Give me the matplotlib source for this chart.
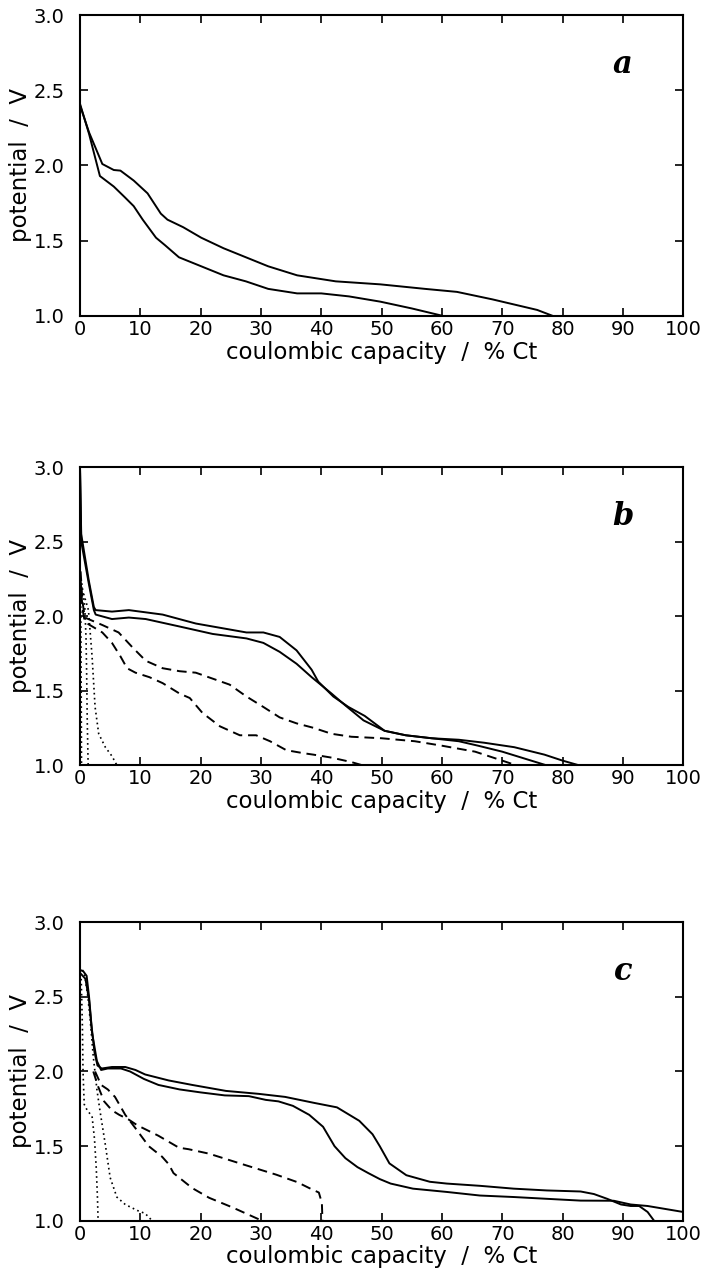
import matplotlib
matplotlib.use("Agg")
import matplotlib.pyplot as plt

# ---------------- data ----------------
# panel a
a1_x = [0, 0, 1.5, 3.7, 5.6, 6.7, 8.9, 11.2, 13.4, 14.5, 17.1, 20.1, 23.8, 27.5, 31.2, 36, 42.4, 49.8, 57.2, 62.5, 68.4, 75.8, 78.4]
a1_y = [3.0, 2.40, 2.22, 2.01, 1.97, 1.966, 1.90, 1.815, 1.68, 1.64, 1.59, 1.52, 1.45, 1.39, 1.33, 1.27, 1.23, 1.21, 1.18, 1.16, 1.11, 1.04, 1.0]
a2_x = [0, 0, 1.5, 3.3, 5.6, 7.4, 8.9, 10.4, 12.6, 14.1, 16.4, 20.1, 23.8, 27.5, 31.2, 36, 40, 44.6, 49.8, 55, 60.2]
a2_y = [3.0, 2.41, 2.21, 1.93, 1.86, 1.79, 1.73, 1.64, 1.52, 1.47, 1.39, 1.33, 1.27, 1.23, 1.18, 1.15, 1.15, 1.13, 1.095, 1.05, 1.0]

# panel b
b_s1_x = [0, 0.2, 1.45, 2.3, 2.6, 5.3, 8.1, 13.7, 19.2, 24.8, 27.6, 30.4, 33.1, 35.9, 38.4, 39.5, 42, 44.5, 47.2, 50.5, 54, 58.3, 62.8, 66, 70, 74, 77.2]
b_s1_y = [3.0, 2.55, 2.24, 2.06, 2.04, 2.03, 2.04, 2.01, 1.95, 1.91, 1.89, 1.89, 1.86, 1.77, 1.64, 1.56, 1.46, 1.39, 1.33, 1.23, 1.20, 1.18, 1.16, 1.13, 1.09, 1.04, 1.0]
b_s2_x = [0, 0.2, 1.45, 2.3, 2.6, 5.3, 8.1, 10.9, 16.5, 22, 27.6, 30.4, 33.1, 35.9, 38.4, 41.7, 44, 47, 50.5, 54, 58.3, 62.8, 67, 72, 77, 80, 82.6]
b_s2_y = [3.0, 2.5, 2.22, 2.04, 2.01, 1.98, 1.99, 1.98, 1.93, 1.88, 1.85, 1.82, 1.76, 1.68, 1.59, 1.48, 1.40, 1.30, 1.23, 1.20, 1.18, 1.17, 1.15, 1.12, 1.07, 1.03, 1.0]
b_d1_x = [0.1, 0.4, 0.8, 3.7, 6.4, 8.7, 10.9, 13.7, 16.5, 19.2, 22, 24.8, 27.6, 30.4, 33.1, 35.9, 38.7, 41.7, 45, 50, 55.5, 60, 65.5, 70, 72.2]
b_d1_y = [2.3, 2.1, 1.99, 1.94, 1.89, 1.79, 1.70, 1.65, 1.63, 1.62, 1.58, 1.54, 1.46, 1.39, 1.32, 1.28, 1.25, 1.21, 1.19, 1.18, 1.16, 1.13, 1.09, 1.03, 1.0]
b_d2_x = [0.1, 0.4, 0.8, 3.7, 5.3, 6.7, 7.8, 9.2, 11.5, 13.7, 16.5, 18.2, 20.3, 23.2, 26.5, 29.2, 31.5, 34.2, 37, 38.7, 41.7, 45, 46.7]
b_d2_y = [2.25, 2.05, 1.96, 1.89, 1.82, 1.73, 1.65, 1.62, 1.59, 1.55, 1.48, 1.45, 1.35, 1.26, 1.20, 1.20, 1.16, 1.10, 1.08, 1.07, 1.05, 1.02, 1.0]
b_o1_x = [0.3, 0.8, 1.0, 1.1, 1.2, 1.35]
b_o1_y = [2.22, 2.06, 1.85, 1.62, 1.3, 1.0]
b_o2_x = [0.6, 1.4, 2.0, 2.5, 3.1, 4.2, 5.3, 6.1]
b_o2_y = [2.15, 2.04, 1.73, 1.39, 1.21, 1.12, 1.06, 1.0]
b_o3_x = [0.1, 0.15, 0.2, 0.25]
b_o3_y = [2.2, 1.9, 1.5, 1.0]

# panel c
c_s1_x = [0, 0, 0.55, 1.1, 1.5, 1.9, 2.4, 2.9, 3.6, 5.3, 7.5, 9.2, 10.8, 14.7, 18.6, 24.2, 29.7, 34, 38.8, 42.6, 46.3, 48.5, 49.7, 51.3, 54.1, 58, 60.8, 66.3, 71.9, 77.4, 83, 85.2, 87.4, 89.7, 91.3, 92.7, 94.1, 95.2]
c_s1_y = [3.0, 2.68, 2.67, 2.64, 2.50, 2.31, 2.13, 2.04, 2.02, 2.03, 2.03, 2.01, 1.98, 1.94, 1.91, 1.87, 1.85, 1.83, 1.79, 1.76, 1.67, 1.58, 1.50, 1.385, 1.306, 1.262, 1.25, 1.235, 1.216, 1.204, 1.197, 1.18, 1.148, 1.11, 1.10, 1.10, 1.06, 1.0]
c_s2_x = [0, 0, 0.9, 1.5, 2.0, 2.8, 3.5, 4.6, 6.8, 8.3, 10.6, 13, 16.5, 20, 24, 28, 30.8, 32.9, 35.3, 38, 40.3, 42.2, 44, 46, 47.8, 49.7, 51.5, 55.2, 60.8, 66.3, 71.9, 77.4, 83, 88.5, 91.3, 94.1, 100]
c_s2_y = [3.0, 2.66, 2.62, 2.48, 2.26, 2.07, 2.01, 2.02, 2.02, 2.0, 1.95, 1.91, 1.88, 1.86, 1.84, 1.835, 1.81, 1.80, 1.77, 1.71, 1.63, 1.50, 1.42, 1.36, 1.32, 1.28, 1.25, 1.216, 1.194, 1.17, 1.16, 1.148, 1.136, 1.135, 1.11, 1.10, 1.06]
c_d1_x = [2.2, 3.0, 4.0, 5.3, 6.5, 8, 9.5, 13, 16.4, 18, 21.4, 26.9, 32.5, 36, 38, 39.6, 40.1, 40.2]
c_d1_y = [2.0, 1.9, 1.80, 1.74, 1.71, 1.68, 1.64, 1.57, 1.49, 1.48, 1.45, 1.38, 1.31, 1.26, 1.22, 1.19, 1.12, 1.0]
c_d2_x = [2.5, 3.5, 4.6, 5.8, 7.5, 9.2, 11.4, 13.6, 14.7, 15.5, 18.6, 21.4, 25.3, 27.5, 29.7, 30]
c_d2_y = [2.0, 1.91, 1.88, 1.83, 1.71, 1.62, 1.50, 1.43, 1.38, 1.32, 1.22, 1.155, 1.09, 1.05, 1.01, 1.0]
c_o1_x = [0.2, 0.4, 0.5, 0.7, 1.2, 2.0, 2.4, 2.7, 2.9, 3.0]
c_o1_y = [2.62, 2.3, 2.0, 1.78, 1.74, 1.70, 1.55, 1.35, 1.15, 1.0]
c_o2_x = [0.4, 0.8, 1.3, 1.7, 2.2, 2.8, 3.3, 4.2, 5.0, 6.1, 7.5, 9.5, 10.8, 12]
c_o2_y = [2.68, 2.64, 2.5, 2.34, 2.1, 1.88, 1.74, 1.51, 1.29, 1.16, 1.11, 1.07, 1.05, 1.0]

x_ticks = [0, 10, 20, 30, 40, 50, 60, 70, 80, 90, 100]
y_ticks = [1.0, 1.5, 2.0, 2.5, 3.0]
panel_letters = ["a", "b", "c"]
xlabel_text = "coulombic capacity  /  % Ct"
ylabel_text = "potential  /  V"

# ---------------- figure ----------------
plt.rcParams['font.family'] = ['DejaVu Sans']
fig = plt.figure(figsize=(7.03, 12.73), dpi=100)

L, W = 0.1138, 0.858
positions = [(L, 0.7518, W, 0.2364), (L, 0.3990, W, 0.2341), (L, 0.0409, W, 0.2348)]

solid = dict(color='black', lw=1.4, ls='-')
dashed = dict(color='black', lw=1.4, ls=(0, (5, 3)))
dotted = dict(color='black', lw=1.2, ls=(0, (1, 2)))

panels = [
    [(a1_x, a1_y, solid), (a2_x, a2_y, solid)],
    [(b_s1_x, b_s1_y, solid), (b_s2_x, b_s2_y, solid),
     (b_d1_x, b_d1_y, dashed), (b_d2_x, b_d2_y, dashed),
     (b_o1_x, b_o1_y, dotted), (b_o2_x, b_o2_y, dotted), (b_o3_x, b_o3_y, dotted)],
    [(c_s1_x, c_s1_y, solid), (c_s2_x, c_s2_y, solid),
     (c_d1_x, c_d1_y, dashed), (c_d2_x, c_d2_y, dashed),
     (c_o1_x, c_o1_y, dotted), (c_o2_x, c_o2_y, dotted)],
]

for pos, curves, letter in zip(positions, panels, panel_letters):
    ax = fig.add_axes(pos)
    for x, y, st in curves:
        ax.plot(x, y, clip_on=True, **st)
    ax.set_xlim(0, 100)
    ax.set_ylim(1.0, 3.0)
    ax.set_xticks(x_ticks)
    ax.set_yticks(y_ticks)
    ax.set_xticklabels([str(t) for t in x_ticks])
    ax.set_yticklabels([f"{t:.1f}" for t in y_ticks])
    ax.tick_params(direction='in', length=6, width=1.2, top=True, right=True,
                   labelsize=14, pad=3)
    ax.tick_params(axis='y', pad=11)
    for sp in ax.spines.values():
        sp.set_linewidth(1.5)
    ax.set_xlabel(xlabel_text, fontsize=16.5, labelpad=1)
    ax.set_ylabel(ylabel_text, fontsize=16.5, labelpad=1)
    ax.text(0.90, 0.835, letter, transform=ax.transAxes, fontsize=22,
            family='DejaVu Serif', style='italic', weight='bold',
            ha='center', va='center')

fig.savefig("out.png", dpi=100)
